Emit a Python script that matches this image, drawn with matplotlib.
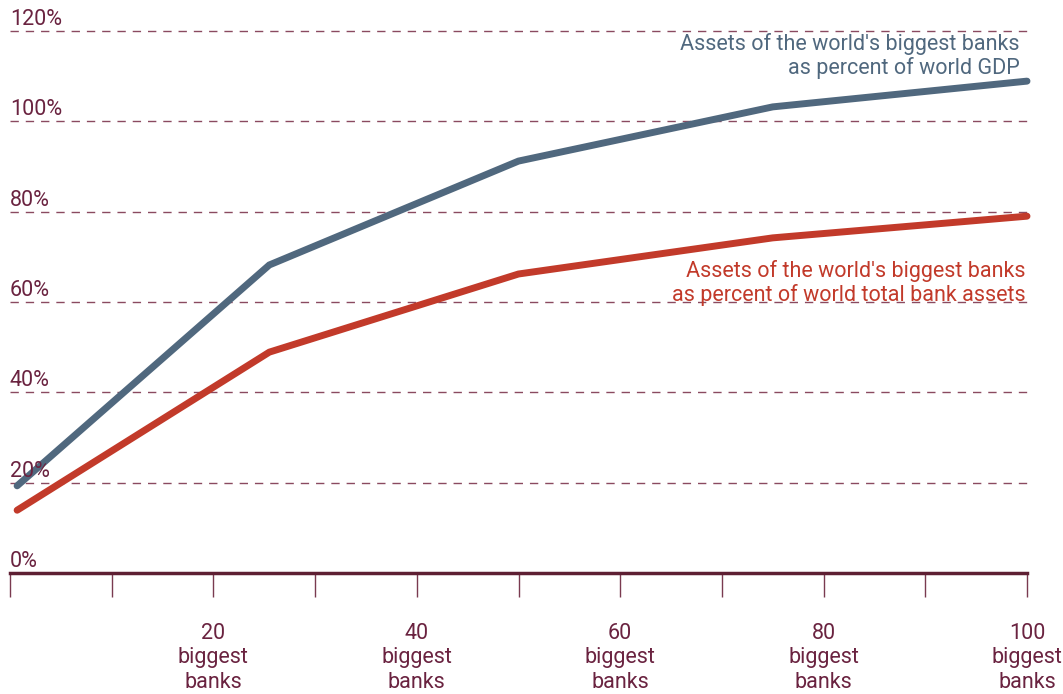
import matplotlib
matplotlib.use("Agg")
import matplotlib.pyplot as plt

# Data
banks = [0.7, 25.5, 50, 75, 100]
pct_gdp = [19.3, 68.2, 91.2, 103.2, 108.9]
pct_bank_assets = [13.9, 48.9, 66.2, 74.2, 79.0]
y_ticks = [0, 20, 40, 60, 80, 100, 120]
y_labels = ["0%", "20%", "40%", "60%", "80%", "100%", "120%"]
x_label_pos = [20, 40, 60, 80, 100]
x_labels = ["20\nbiggest\nbanks", "40\nbiggest\nbanks", "60\nbiggest\nbanks",
            "80\nbiggest\nbanks", "100\nbiggest\nbanks"]
x_minor = list(range(0, 101, 10))

plt.rcParams['font.family'] = ['Roboto', 'DejaVu Sans']

MAROON = "#6a2340"
GRID = "#8a4a60"
BLUE = "#50687e"
RED = "#c23a2a"
FS = 15.5

fig = plt.figure(figsize=(10.63, 6.94), dpi=100)
ax = fig.add_axes([10/1063, (694-573)/694, (1027-10)/1063, (573-31)/694])
ax.set_xlim(0, 100)
ax.set_ylim(0, 120)
for s in ["top", "right", "left"]:
    ax.spines[s].set_visible(False)
ax.spines["bottom"].set_color("#5e1f33")
ax.spines["bottom"].set_linewidth(2.5)
ax.spines["bottom"].set_clip_on(False)

for y in y_ticks[1:]:
    ax.axhline(y, color=GRID, lw=1, ls=(0, (6, 5)), zorder=1, clip_on=False)

ax.plot(banks, pct_gdp, color=BLUE, lw=5, solid_capstyle="round",
        solid_joinstyle="miter", zorder=3, clip_on=False)
ax.plot(banks, pct_bank_assets, color=RED, lw=5, solid_capstyle="round",
        solid_joinstyle="miter", zorder=3, clip_on=False)

ax.set_yticks([])
ax.set_xticks(x_minor)
ax.set_xticklabels([])
ax.tick_params(axis="x", direction="out", length=17, width=1, color="#7a3a50", pad=0)

for y, lab in zip(y_ticks, y_labels):
    ax.text(0, y + 0.2, lab, ha="left", va="bottom", fontsize=FS,
            color=MAROON)

for x, lab in zip(x_label_pos, x_labels):
    ax.text(x, -11.0, lab, ha="center", va="top", fontsize=FS, color=MAROON,
            linespacing=1.22, clip_on=False)

ax.text(99.3, 119.6, "Assets of the world's biggest banks\nas percent of world GDP",
        ha="right", va="top", fontsize=FS, color=BLUE, linespacing=1.1,
        multialignment="right")
ax.text(99.9, 69.3, "Assets of the world's biggest banks\nas percent of world total bank assets",
        ha="right", va="top", fontsize=FS, color=RED, linespacing=1.1,
        multialignment="right")

fig.savefig("out.png", dpi=100)
